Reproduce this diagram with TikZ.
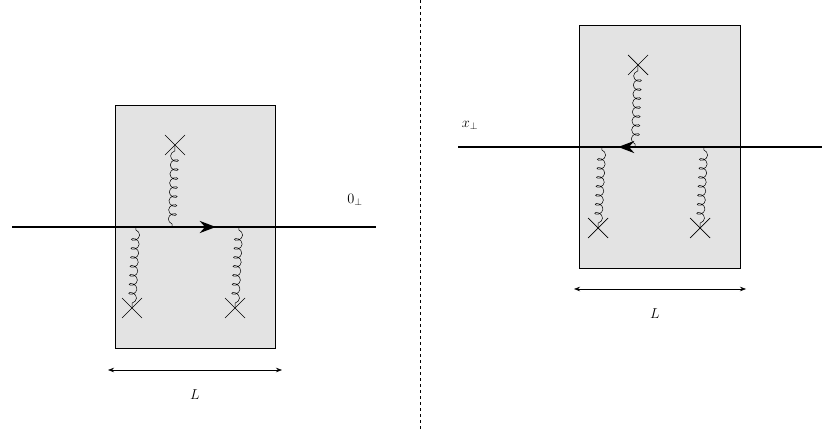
\documentclass[tikz,border=0pt]{standalone}
\usetikzlibrary{decorations.pathmorphing,arrows.meta,decorations.markings}
\begin{document}
\begin{tikzpicture}[x=1pt,y=-1pt,
  boxr/.style={draw,fill=gray!22,line width=0.8pt},
  quark/.style={line width=2.6pt},
  gluon/.style={decorate,decoration={coil,aspect=0.7,amplitude=4pt,segment length=9pt,pre length=3pt,post length=3pt},line width=0.5pt},
  crossm/.style={line width=0.7pt},
  dim/.style={{Stealth[length=6pt]}-{Stealth[length=6pt]},line width=0.6pt},
  lab/.style={font=\Large}]
\useasboundingbox (0,0) rectangle (830,430);
\draw[dashed,line width=0.6pt] (420,0) -- (420,430);
% left
\draw[boxr] (115,105) rectangle (275,348);
\coordinate (ta) at (172,227); \coordinate (tc) at (175,145);
\coordinate (la) at (136,227); \coordinate (lc) at (132,308);
\coordinate (ra) at (239,227); \coordinate (rc) at (235,308);
\draw[gluon] (ta) -- (tc);
\draw[gluon] (la) -- (lc);
\draw[gluon] (ra) -- (rc);
\foreach \c in {tc,lc,rc}{\draw[crossm] (\c) ++(-10,-10) -- ++(20,20) (\c) ++(-10,10) -- ++(20,-20);}
\coordinate (l1) at (12,227); \coordinate (l2) at (376,227);
\draw[quark,postaction={decorate},decoration={markings,mark=at position 0.56 with {\arrow{Stealth[length=16pt,width=12pt]}}}] (l1) -- (l2);
\node[lab] (z) at (355,200) {$0_\perp$};
\coordinate (d1) at (108,370); \coordinate (d2) at (282,370);
\draw[dim] (d1) -- (d2);
\node[lab] (L1) at (195,395) {$L$};
% right
\draw[boxr] (579,25) rectangle (740,268);
\coordinate (tb) at (635,147); \coordinate (td) at (638,65);
\coordinate (lb) at (602,147); \coordinate (ld) at (598,228);
\coordinate (rb) at (704,147); \coordinate (rd) at (700,228);
\draw[gluon] (tb) -- (td);
\draw[gluon] (lb) -- (ld);
\draw[gluon] (rb) -- (rd);
\foreach \c in {td,ld,rd}{\draw[crossm] (\c) ++(-10,-10) -- ++(20,20) (\c) ++(-10,10) -- ++(20,-20);}
\coordinate (m1) at (458,147); \coordinate (m2) at (822,147);
\draw[quark,postaction={decorate},decoration={markings,mark=at position 0.44 with {\arrowreversed{Stealth[length=16pt,width=12pt]}}}] (m1) -- (m2);
\node[lab] (xp) at (470,125) {$x_\perp$};
\coordinate (e1) at (574,289); \coordinate (e2) at (746,289);
\draw[dim] (e1) -- (e2);
\node[lab] (L2) at (655,314) {$L$};
\end{tikzpicture}
\end{document}
